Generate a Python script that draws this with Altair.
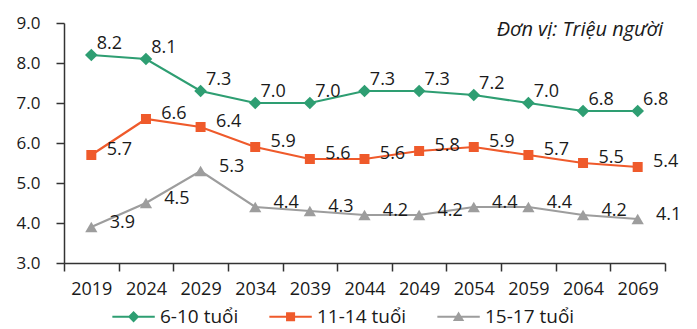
import altair as alt
import pandas as pd

years = ["2019", "2024", "2029", "2034", "2039", "2044", "2049", "2054", "2059", "2064", "2069"]
series_names = ["6-10 tuổi", "11-14 tuổi", "15-17 tuổi"]
age_6_10 = [8.2, 8.1, 7.3, 7.0, 7.0, 7.3, 7.3, 7.2, 7.0, 6.8, 6.8]
age_11_14 = [5.7, 6.6, 6.4, 5.9, 5.6, 5.6, 5.8, 5.9, 5.7, 5.5, 5.4]
age_15_17 = [3.9, 4.5, 5.3, 4.4, 4.3, 4.2, 4.2, 4.4, 4.4, 4.2, 4.1]
y_ticks = [3, 4, 5, 6, 7, 8, 9]

colors = ["#2e9e72", "#ef5a2b", "#9d9d9d"]
FONT = "Open Sans"
TEXT = "#1a1a1a"

rows = []
for name, vals in zip(series_names, [age_6_10, age_11_14, age_15_17]):
    for yr, v in zip(years, vals):
        rows.append({"year": yr, "series": name, "value": v})
df = pd.DataFrame(rows)

x_enc = alt.X(
    "year:N",
    sort=years,
    bandPosition=0.5,
    scale=alt.Scale(type="band", paddingInner=0, paddingOuter=0),
    axis=alt.Axis(
        title=None, tickBand="extent", labelAngle=0, tickSize=8,
        labelPadding=9, labelFont=FONT, labelFontSize=18,
        labelColor=TEXT, domainColor="#333333", tickColor="#333333",
        domainWidth=1.5, tickWidth=1.5, grid=False,
    ),
)
y_enc = alt.Y(
    "value:Q",
    scale=alt.Scale(domain=[3, 9], nice=False, zero=False),
    axis=alt.Axis(
        title=None, values=y_ticks, format=".1f", tickSize=8,
        labelPadding=16, labelFont=FONT, labelFontSize=17,
        labelColor=TEXT, domainColor="#333333", tickColor="#333333",
        domainWidth=1.5, tickWidth=1.5, grid=False,
    ),
)
color_scale = alt.Scale(domain=series_names, range=colors)

base = alt.Chart(df)

# legend glyphs: a short line with the series marker in its middle
legend_paths = [
    "M-1,-0.07H2V0.07H-1Z M0.5,-0.4L0.9,0L0.5,0.4L0.1,0Z",
    "M-1,-0.07H2V0.07H-1Z M0.18,-0.32H0.82V0.32H0.18Z",
    "M-1,-0.07H2V0.07H-1Z M0.5,-0.38L0.9,0.3H0.1Z",
]
legend_spec = alt.Legend(
    title=None, orient="none", direction="horizontal", legendX=48, legendY=279,
    symbolSize=800, symbolOpacity=1, symbolStrokeWidth=0,
    labelFont=FONT, labelFontSize=19, labelColor=TEXT,
    labelOffset=19, columnPadding=30, padding=0,
)
# invisible layer that only carries the legend (listed first so its legend wins)
legend_layer = base.mark_point(filled=True).encode(
    x=x_enc, y=y_enc,
    opacity=alt.value(0),
    color=alt.Color("series:N", scale=color_scale, legend=legend_spec),
    shape=alt.Shape("series:N", scale=alt.Scale(domain=series_names, range=legend_paths),
                    legend=legend_spec),
)

lines = base.mark_line(strokeWidth=2.2).encode(
    x=x_enc, y=y_enc,
    color=alt.Color("series:N", scale=color_scale, legend=None),
)

marker_shapes = ["diamond", "square", "triangle-up"]
marker_sizes = [160, 100, 150]
markers = []
for name, shp, sz in zip(series_names, marker_shapes, marker_sizes):
    markers.append(
        base.transform_filter(alt.datum.series == name)
        .mark_point(shape=shp, filled=True, size=sz, opacity=1)
        .encode(x=x_enc, y=y_enc,
                color=alt.Color("series:N", scale=color_scale, legend=None))
    )

label_offsets = {"6-10 tuổi": (18, -11), "11-14 tuổi": (28, -5), "15-17 tuổi": (31, -4)}
labels = []
for name in series_names:
    dx, dy = label_offsets[name]
    labels.append(
        base.transform_filter(alt.datum.series == name)
        .mark_text(font=FONT, fontSize=18, color=TEXT, dx=dx, dy=dy, align="center", baseline="middle")
        .encode(x=x_enc, y=y_enc, text=alt.Text("value:Q", format=".1f"))
    )

unit_note = alt.Chart(pd.DataFrame({"t": ["Đơn vị: Triệu người"]})).mark_text(
    font=FONT, fontSize=20, fontStyle="italic", color=TEXT, align="right", baseline="middle"
).encode(x=alt.value(599), y=alt.value(7), text="t:N")

chart = alt.layer(legend_layer, lines, *markers, *labels, unit_note).properties(
    width=601, height=240,
    padding={"left": 64, "top": 23, "right": 32, "bottom": 66},
    autosize=alt.AutoSizeParams(type="none"),
).configure_view(stroke=None)

chart.save("out.html", embed_options={"renderer": "svg", "actions": False})
